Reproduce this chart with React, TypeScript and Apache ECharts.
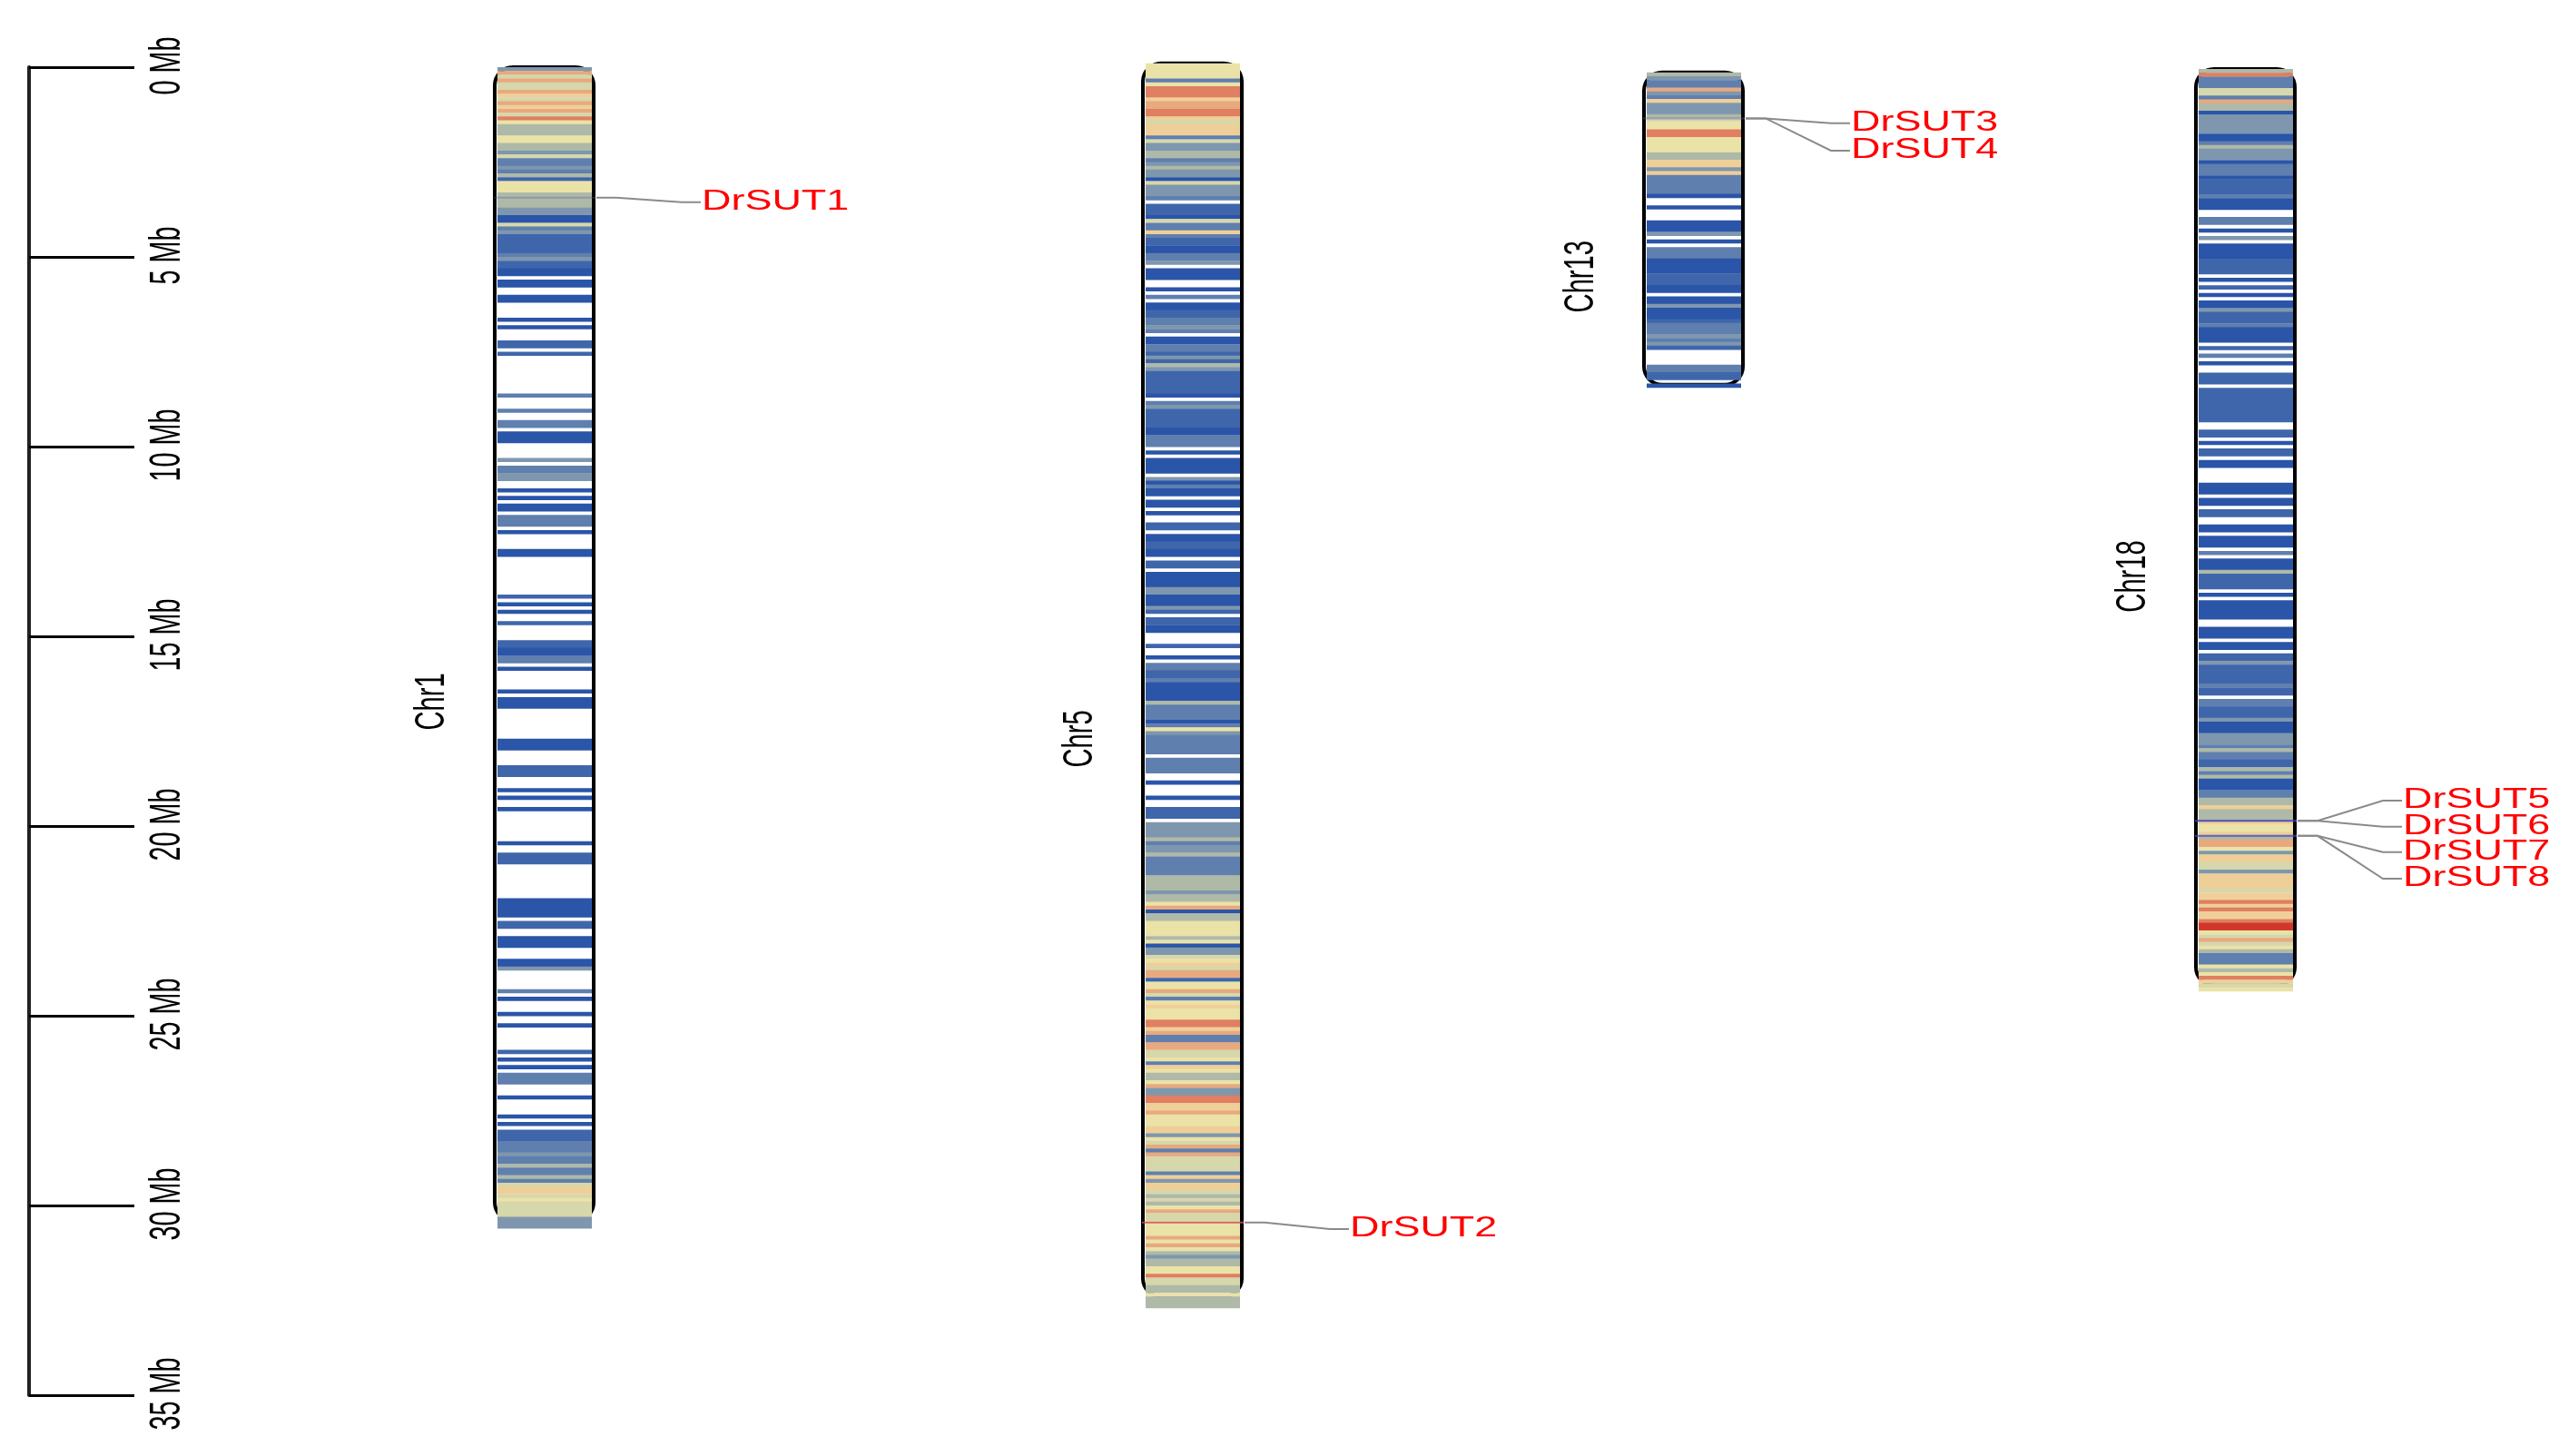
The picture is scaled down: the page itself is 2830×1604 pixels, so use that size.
import React, { useEffect, useRef } from "react";
import * as echarts from "echarts";

// ---- data ----
const chromosomes = ["Chr1", "Chr5", "Chr13", "Chr18"];
const tickValues = [0, 5, 10, 15, 20, 25, 30, 35];
const binSizeMb = 0.1;
// where each chromosome's first bin begins, and its nominal outline length (Mb)
const chromStartMb = [0, -0.1, 0.14, 0.05];
const chromLengthMb = [30.4, 32.5, 8.23, 24.15];
const chromLabelMb = [16.72, 17.7, 5.52, 13.42];

// density runs: [density level, number of 0.1 Mb bins]; level 0 = no genes
const chr1Density = [
  [4,1],[9,1],[6,1],[9,1],[6,2],[9,1],[8,1],[6,1],[9,1],[8,1],[9,1],[6,1],[10,1],[7,1],[5,3],[7,2],[5,2],[4,1],[6,1],[3,2],[4,1],[3,1],[5,1],[2,1],[7,3],[5,4],[4,2],[1,2],[6,1],[3,1],[4,1],[2,5],[3,1],[4,1],[2,2],[1,2],
  [0,1],[1,2],[0,2],[1,2],[0,4],[1,1],[0,1],[1,1],[0,3],[2,2],[0,1],[2,1],[0,10],[3,1],[0,3],[3,1],[0,2],
  [3,2],[0,1],[1,3],[0,4],[4,1],[0,1],[3,2],[4,2],[0,2],[1,1],[0,1],[1,1],[0,1],[1,2],[0,1],[3,3],[0,1],[1,1],[0,4],[1,2],[0,10],[2,1],[0,1],[1,1],[0,1],[1,1],[0,2],[2,1],[0,4],[2,2],[1,2],[3,2],[0,1],[1,1],[0,5],[1,1],[0,1],[1,3],[0,8],[1,3],[0,4],[2,3],[0,3],[1,1],[0,1],[1,1],[0,2],[1,1],[0,8],[1,1],
  [0,2],[2,3],[0,9],[1,5],[0,1],[2,2],[0,2],[1,3],[0,3],[1,2],[4,1],[0,5],[3,1],[0,1],[1,1],[0,3],[1,1],[0,2],[1,1],[0,6],[2,1],[0,1],[1,1],[0,1],[1,1],[0,1],[3,3],[0,3],[1,1],[0,4],[1,1],[0,1],[1,1],[0,1],[2,3],[3,3],[4,1],[3,2],[5,1],[3,2],[5,1],[3,1],[6,1],[8,2],[6,1],[7,1],[6,4],[4,3],
];
const chr5Density = [
  [7,4],[3,1],[7,1],[10,3],[8,1],[9,2],[10,2],[8,1],[6,1],[8,3],[3,1],[6,1],[4,2],[5,2],[3,1],[4,1],[5,1],[4,2],[1,1],[6,1],[4,3],[3,1],[0,1],[2,3],[1,1],[6,1],[3,2],[8,1],[3,1],[2,2],[1,2],[3,2],[4,1],[0,1],[1,3],[0,2],[1,1],[0,1],[3,1],[0,1],[1,2],[2,2],[3,2],[4,1],[3,1],[0,1],[1,2],[3,2],[2,1],[4,1],[2,1],[5,1],[4,1],[2,6],[1,1],[0,1],[3,1],[4,1],[2,5],[1,2],[3,3],[0,1],[1,1],[0,1],[1,4],[0,1],
  [4,1],[1,1],[3,1],[1,2],[0,1],[1,2],[0,1],[1,1],[0,2],[2,2],[0,1],[1,2],[2,2],[1,2],[0,1],[2,2],[0,1],[1,4],[4,2],[1,3],[4,1],[2,1],[0,1],[2,2],[1,2],[0,3],[2,1],[0,2],[1,1],[0,1],[3,2],[2,2],[3,1],[1,5],[5,1],[3,4],[1,1],[3,1],[7,1],[4,1],[3,5],[0,1],[3,4],[0,2],[1,1],[0,3],[1,1],[0,2],[2,3],[0,1],[4,4],[5,1],[3,1],[4,2],[5,1],[3,5],[5,4],[4,1],[5,2],[7,1],[9,1],
  [1,1],[5,2],[7,4],[5,1],[7,1],[1,1],[4,2],[6,1],[7,1],[8,1],[6,1],[9,2],[2,1],[7,2],[9,1],[6,1],[3,1],[7,1],[8,1],[7,3],[10,2],[8,1],[9,1],[3,2],[9,2],[6,2],[7,1],[3,1],[8,1],[7,1],[5,2],[7,1],[9,1],[4,2],[10,2],[8,2],[9,1],[7,3],[8,2],[4,1],[7,1],[6,1],[9,1],[3,1],[9,1],[6,4],[3,1],[8,1],[4,1],[8,2],[6,1],[5,1],[6,1],[5,1],[7,1],[9,1],[6,2],[7,4],[9,1],[7,1],[9,1],[7,1],[5,1],[4,1],[5,2],[7,2],[10,1],[6,2],[5,2],[7,1],[5,3],
];
const chr13Density = [
  [5,1],[4,1],[3,2],[9,1],[4,1],[3,1],[8,1],[4,3],[5,1],[6,1],[7,2],[10,2],[7,1],[7,3],[5,2],[8,2],[4,1],[8,1],[3,2],[3,3],[1,1],[0,2],[1,1],[0,3],[1,3],[4,1],[0,1],[1,1],[0,1],[3,3],[1,4],[2,3],[1,2],[0,1],[1,2],[4,1],[1,3],[2,1],[3,3],[4,1],[3,1],[4,1],[2,1],[0,4],[3,2],[2,2],[0,1],[1,1],
];
const chr18Density = [
  [5,1],[10,1],[3,3],[6,2],[3,1],[9,1],[5,2],[1,1],[4,5],[1,2],[3,1],[5,1],[4,3],[1,1],[3,3],[1,1],[2,4],[3,1],[1,3],[0,2],[3,2],[0,1],[1,1],[0,1],[4,1],[0,1],[1,4],[2,4],[0,1],[1,1],[0,1],[2,1],[0,1],[1,1],[0,1],[1,2],[4,1],[2,3],[3,1],[1,4],[0,1],[2,1],[0,1],[3,1],[0,1],[1,1],[0,2],[2,3],[0,1],[2,8],
  [2,1],[0,2],[2,2],[0,1],[1,1],[0,1],[2,2],[0,1],[1,2],[0,4],[1,3],[0,1],[1,2],[0,1],[2,2],[0,2],[1,2],[0,1],[1,3],[0,1],[3,1],[0,1],[1,3],[5,1],[2,4],[0,1],[1,1],[0,1],[1,5],[0,2],[1,3],[0,1],[1,2],[0,1],[2,2],[4,1],[2,5],[3,1],[2,2],[0,1],[3,2],[2,3],[4,1],[1,3],[4,3],[3,1],[5,1],[3,2],[2,2],[5,1],
  [3,1],[5,1],[1,3],[3,2],[5,2],[8,1],[5,3],[8,1],[7,2],[8,1],[5,1],[9,2],[7,1],[4,1],[8,2],[6,2],[4,1],[8,4],[6,1],[8,2],[10,1],[8,1],[10,1],[8,2],[10,1],[11,2],[7,1],[6,1],[9,1],[6,1],[7,1],[5,1],[3,3],[7,1],[5,1],[7,1],[10,1],[8,1],[6,1],[7,1],
];
const densityByChrom = [chr1Density, chr5Density, chr13Density, chr18Density];

// genes: name, chromosome index, position (Mb), where its label row sits (Mb)
const geneNames = ["DrSUT1", "DrSUT2", "DrSUT3", "DrSUT4", "DrSUT5", "DrSUT6", "DrSUT7", "DrSUT8"];
const geneChrom = [0, 1, 2, 2, 3, 3, 3, 3];
const genePositionMb = [3.44, 30.45, 1.35, 1.35, 19.86, 19.86, 20.26, 20.26];
const geneLabelMb = [3.56, 30.62, 1.48, 2.2, 19.33, 20.02, 20.69, 21.39];

// ---- styling ----
const densityColors = ["#ffffff", "#2a55a8", "#3f66ab", "#5f7fae", "#7f97ae", "#aeb9a8", "#d6d7ab", "#ebe2a8", "#efcf98", "#e8a97f", "#e07f62", "#d2372c"];
const geneMarkColors = ["rgba(90,90,170,0.35)", "rgba(205,70,90,0.8)", "rgba(90,90,170,0.25)", "rgba(90,90,170,0.25)", "rgba(60,60,190,0.6)", "rgba(60,60,190,0.6)", "rgba(70,70,190,0.5)", "rgba(70,70,190,0.5)"];
const chromLeftPx = [548, 1262, 1814, 2422];
const chromWidthPx = 104;
const FONT = "Liberation Sans, Arial, sans-serif";

const expandBins = (runs: number[][], startMb: number) => {
  const rows: number[][] = [];
  let bin = 0;
  for (const [level, count] of runs) {
    if (level > 0) rows.push([startMb + bin * binSizeMb, startMb + (bin + count) * binSizeMb, level]);
    bin += count;
  }
  return rows;
};

const buildOption = () => {
  const series: any[] = [];

  // chromosome outlines
  series.push({
    type: "custom",
    coordinateSystem: "cartesian2d",
    clip: false,
    silent: true,
    z: 1,
    data: chromosomes.map((_, i) => [i, chromStartMb[i], chromStartMb[i] + chromLengthMb[i]]),
    renderItem: (_p: any, api: any) => {
      const i = api.value(0);
      const a = api.coord([chromLeftPx[i] - 3, api.value(1)]);
      const b = api.coord([chromLeftPx[i] + chromWidthPx + 2, api.value(2)]);
      return {
        type: "rect",
        shape: { x: a[0], y: a[1], width: b[0] - a[0], height: b[1] - a[1], r: 20 },
        style: { fill: "none", stroke: "#000000", lineWidth: 4 },
      };
    },
  });

  // density bands
  chromosomes.forEach((_, i) => {
    series.push({
      type: "custom",
      coordinateSystem: "cartesian2d",
      clip: false,
      silent: true,
      z: 2,
      data: expandBins(densityByChrom[i], chromStartMb[i]),
      renderItem: (_p: any, api: any) => {
        const a = api.coord([chromLeftPx[i], api.value(0)]);
        const b = api.coord([chromLeftPx[i] + chromWidthPx, api.value(1)]);
        return {
          type: "rect",
          shape: { x: a[0], y: a[1], width: b[0] - a[0], height: b[1] - a[1] + 0.4 },
          style: { fill: densityColors[api.value(2)] },
        };
      },
    });
  });

  // gene marks, leader lines and labels
  series.push({
    type: "custom",
    coordinateSystem: "cartesian2d",
    clip: false,
    silent: true,
    z: 3,
    data: geneNames.map((name, g) => [g, genePositionMb[g], geneLabelMb[g]]),
    renderItem: (_p: any, api: any) => {
      const g = api.value(0);
      const c = geneChrom[g];
      const right = chromLeftPx[c] + chromWidthPx;
      const at = (x: number, mb: number) => api.coord([x, mb]);
      const g0 = at(chromLeftPx[c] - 4, api.value(1));
      const g1 = at(right + 4, api.value(1));
      const p1 = at(right + 5, api.value(1));
      const p2 = at(right + 27, api.value(1));
      const p3 = at(right + 99, api.value(2));
      const p4 = at(right + 120, api.value(2));
      return {
        type: "group",
        children: [
          { type: "line", shape: { x1: g0[0], y1: g0[1], x2: g1[0], y2: g1[1] }, style: { stroke: geneMarkColors[g], lineWidth: 2 } },
          { type: "polyline", shape: { points: [p1, p2, p3, p4] }, style: { fill: "none", stroke: "#8a8a8a", lineWidth: 2 } },
          {
            type: "text",
            x: p4[0] + 1,
            y: p4[1] - 2.5,
            scaleX: 1.45,
            style: { text: geneNames[g], fill: "#ff0000", fontFamily: FONT, fontSize: 31, align: "left", verticalAlign: "middle" },
          },
        ],
      };
    },
  });

  // chromosome names
  series.push({
    type: "custom",
    coordinateSystem: "cartesian2d",
    clip: false,
    silent: true,
    z: 4,
    data: chromosomes.map((_, i) => [i, chromLabelMb[i]]),
    renderItem: (_p: any, api: any) => {
      const i = api.value(0);
      const p = api.coord([chromLeftPx[i] - 75, api.value(1)]);
      return {
        type: "text",
        x: p[0],
        y: p[1],
        rotation: Math.PI / 2,
        scaleX: 0.62,
        style: { text: chromosomes[i], fill: "#000000", fontFamily: FONT, fontSize: 47, align: "center", verticalAlign: "middle" },
      };
    },
  });

  // ruler labels
  series.push({
    type: "custom",
    coordinateSystem: "cartesian2d",
    clip: false,
    silent: true,
    z: 4,
    data: tickValues.map((v) => [v]),
    renderItem: (_p: any, api: any) => {
      const v = api.value(0);
      const p = api.coord([181, v]);
      return {
        type: "text",
        x: p[0],
        y: p[1] - 1.5,
        rotation: Math.PI / 2,
        scaleX: 0.6,
        style: { text: `${v} Mb`, fill: "#000000", fontFamily: FONT, fontSize: 48, align: "center", verticalAlign: "middle" },
      };
    },
  });

  return {
    animation: false,
    backgroundColor: "#ffffff",
    grid: { left: 32, top: 74, width: 2798, height: 1463, containLabel: false },
    xAxis: { type: "value", min: 32, max: 2830, show: false },
    yAxis: {
      type: "value",
      inverse: true,
      min: 0,
      max: 35,
      interval: 5,
      position: "left",
      axisLine: { show: true, onZero: false, lineStyle: { color: "#222222", width: 4 } },
      axisTick: { show: true, inside: true, length: 116, lineStyle: { color: "#000000", width: 3 } },
      axisLabel: { show: false },
      splitLine: { show: false },
    },
    series,
  };
};

export default function App() {
  const ref = useRef<HTMLDivElement>(null);
  useEffect(() => {
    document.body.style.margin = "0";
    const chart = echarts.init(ref.current!, undefined, { renderer: "svg" });
    chart.setOption(buildOption() as any);
    return () => chart.dispose();
  }, []);
  return <div ref={ref} style={{ width: 2830, height: 1604, filter: "blur(0.7px)" }} />;
}
